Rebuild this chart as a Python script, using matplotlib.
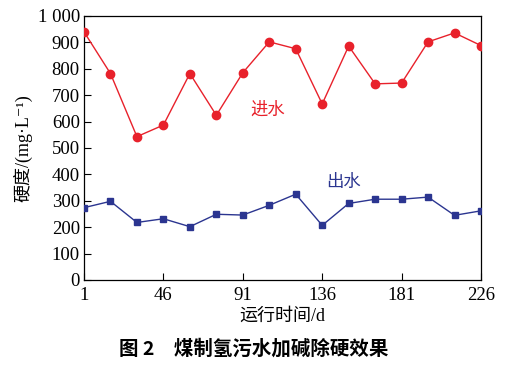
import matplotlib
matplotlib.use("Agg")
import matplotlib.pyplot as plt

# sampling days (every 15 d) and hardness, mg/L
days = [1, 16, 31, 46, 61, 76, 91, 106, 121, 136, 151, 166, 181, 196, 211, 226]
inlet = [940, 782, 543, 587, 782, 624, 785, 902, 876, 667, 886, 743, 746, 902, 936, 888]
outlet = [274, 298, 218, 232, 202, 249, 246, 283, 325, 207, 290, 306, 306, 314, 245, 262]

x_ticks = [1, 46, 91, 136, 181, 226]
y_ticks = [0, 100, 200, 300, 400, 500, 600, 700, 800, 900, 1000]
y_tick_labels = ["0", "100", "200", "300", "400", "500", "600", "700", "800", "900", "1 000"]

SERIF = ["Liberation Serif", "DejaVu Serif"]
CJK = ["Noto Sans CJK SC", "DejaVu Sans"]
MIX = ["Liberation Serif", "Noto Sans CJK SC", "DejaVu Sans"]

RED = "#e8212b"
BLUE = "#2b3590"

fig = plt.figure(figsize=(5.13, 3.66), dpi=100)
ax = fig.add_axes([84 / 513, 1 - 280 / 366, 397 / 513, 264 / 366])

ax.plot(days, inlet, "-o", color=RED, lw=1.0, markersize=6, zorder=3)
ax.plot(days, outlet, "-s", color=BLUE, lw=1.0, markersize=5, zorder=3)

ax.set_xlim(1, 226)
ax.set_ylim(0, 1000)
ax.set_xticks(x_ticks)
ax.set_xticklabels([str(v) for v in x_ticks], family=SERIF, fontsize=13.5)
ax.set_yticks(y_ticks)
ax.set_yticklabels(y_tick_labels, family=SERIF, fontsize=13.5)
ax.tick_params(axis="x", direction="in", length=5, width=0.8, top=False, pad=5)
ax.tick_params(axis="y", direction="in", length=5, width=0.8, right=False, pad=3)
for s in ax.spines.values():
    s.set_linewidth(0.9)

ax.text(105, 645, "进水", color=RED, fontsize=12.5, family=CJK, ha="center", va="center")
ax.text(148, 370, "出水", color=BLUE, fontsize=12.5, family=CJK, ha="center", va="center")

ax.set_xlabel("运行时间/d", family=MIX, fontsize=13, labelpad=3)
ax.set_ylabel("硬度/(mg·L⁻¹)", family=MIX, fontsize=13, labelpad=4)

fig.text(0.495, 1 - 349 / 366, "图 2　煤制氢污水加碱除硬效果", family=CJK, fontsize=14,
         fontweight="bold", ha="center", va="center")

fig.savefig("out.png", dpi=100)
